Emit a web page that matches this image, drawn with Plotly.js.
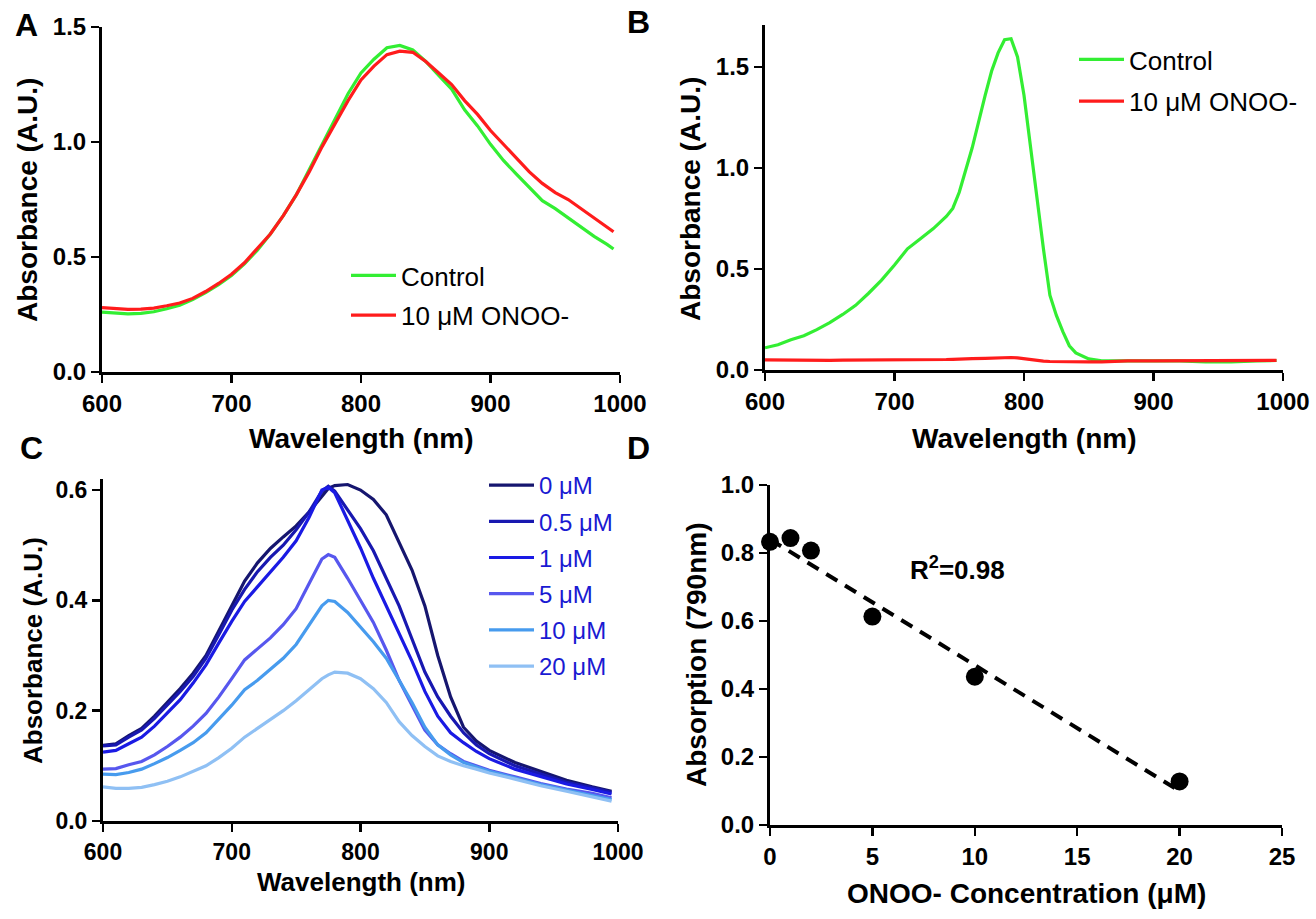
<!DOCTYPE html>
<html>
<head>
<meta charset="utf-8">
<script src="https://cdn.plot.ly/plotly-3.0.1.min.js"></script>
<style>
  html, body { margin: 0; padding: 0; background: #ffffff; }
  #chart { width: 1316px; height: 919px; }
</style>
</head>
<body>
<div id="chart"></div>
<script>
// Panel A: full spectra, control vs ONOO-
const waveA = [600, 610, 620, 630, 640, 650, 660, 670, 680, 690, 700, 710, 720, 730, 740, 750, 760, 770, 780, 790,
  800, 810, 820, 830, 840, 850, 860, 870, 880, 890, 900, 910, 920, 930, 940, 950, 960, 970, 980, 990, 995];
const controlA = [0.26, 0.255, 0.253, 0.255, 0.262, 0.275, 0.29, 0.315, 0.345, 0.38, 0.42, 0.47, 0.53, 0.6, 0.68, 0.77,
  0.88, 0.99, 1.1, 1.21, 1.3, 1.36, 1.41, 1.42, 1.4, 1.35, 1.29, 1.23, 1.14, 1.07, 0.99, 0.92, 0.86, 0.8, 0.745, 0.71,
  0.67, 0.63, 0.59, 0.555, 0.535];
const onooA = [0.28, 0.275, 0.272, 0.273, 0.278, 0.288, 0.3, 0.32, 0.35, 0.385, 0.425, 0.475, 0.535, 0.6, 0.68, 0.77,
  0.87, 0.98, 1.08, 1.18, 1.27, 1.33, 1.38, 1.395, 1.39, 1.35, 1.3, 1.25, 1.18, 1.12, 1.05, 0.99, 0.93, 0.87, 0.82,
  0.78, 0.75, 0.71, 0.67, 0.63, 0.61];

// Panel B
const waveB = [600, 610, 620, 630, 640, 650, 660, 670, 680, 690, 700, 710, 720, 730, 740, 745, 750, 760, 770, 775,
  780, 785, 790, 795, 800, 805, 810, 815, 820, 825, 830, 835, 840, 850, 860, 880, 900, 920, 940, 960, 980, 995];
const controlB = [0.11, 0.125, 0.15, 0.17, 0.2, 0.235, 0.275, 0.32, 0.38, 0.445, 0.52, 0.6, 0.65, 0.7, 0.76, 0.8, 0.88,
  1.1, 1.36, 1.48, 1.57, 1.635, 1.64, 1.55, 1.36, 1.1, 0.84, 0.6, 0.37, 0.27, 0.19, 0.12, 0.085, 0.055, 0.045, 0.045,
  0.045, 0.045, 0.04, 0.04, 0.045, 0.047];
const onooB = [0.05, 0.049, 0.048, 0.048, 0.048, 0.048, 0.049, 0.049, 0.05, 0.05, 0.05, 0.051, 0.051, 0.052, 0.052,
  0.053, 0.053, 0.056, 0.058, 0.06, 0.061, 0.062, 0.062, 0.06, 0.055, 0.05, 0.046, 0.044, 0.042, 0.041, 0.04, 0.04,
  0.04, 0.04, 0.04, 0.045, 0.045, 0.045, 0.045, 0.045, 0.047, 0.048];

// Panel C: titration spectra
const waveC = [600, 610, 620, 630, 640, 650, 660, 670, 680, 690, 700, 710, 720, 730, 740, 750, 760, 770, 775, 780,
  790, 800, 810, 820, 830, 840, 850, 860, 870, 880, 890, 900, 920, 940, 960, 980, 995];
const doseLabels = ["0 μM", "0.5 μM", "1 μM", "5 μM", "10 μM", "20 μM"];
const dose0 = [0.137, 0.14, 0.155, 0.168, 0.19, 0.215, 0.24, 0.268, 0.3, 0.345, 0.39, 0.435, 0.468, 0.494, 0.515, 0.535,
  0.56, 0.59, 0.603, 0.608, 0.61, 0.6, 0.583, 0.555, 0.505, 0.455, 0.39, 0.3, 0.225, 0.17, 0.145, 0.128, 0.106, 0.09,
  0.074, 0.062, 0.054];
const dose05 = [0.136, 0.138, 0.152, 0.165, 0.186, 0.21, 0.235, 0.262, 0.295, 0.338, 0.382, 0.42, 0.452, 0.478, 0.5,
  0.528, 0.56, 0.598, 0.607, 0.598, 0.565, 0.53, 0.49, 0.44, 0.39, 0.33, 0.27, 0.225, 0.19, 0.16, 0.138, 0.122, 0.1,
  0.085, 0.07, 0.06, 0.052];
const dose1 = [0.125, 0.128, 0.14, 0.152, 0.172, 0.195, 0.22, 0.25, 0.283, 0.323, 0.362, 0.398, 0.425, 0.452, 0.478,
  0.508, 0.55, 0.6, 0.605, 0.595, 0.545, 0.495, 0.44, 0.39, 0.34, 0.29, 0.235, 0.19, 0.16, 0.142, 0.126, 0.113, 0.094,
  0.08, 0.067, 0.057, 0.049];
const dose5 = [0.094, 0.095, 0.102, 0.108, 0.12, 0.135, 0.152, 0.172, 0.195, 0.225, 0.258, 0.292, 0.312, 0.332, 0.356,
  0.385, 0.43, 0.475, 0.483, 0.478, 0.44, 0.4, 0.36, 0.31, 0.255, 0.21, 0.165, 0.138, 0.122, 0.108, 0.1, 0.092, 0.08,
  0.068, 0.058, 0.05, 0.042];
const dose10 = [0.085, 0.084, 0.088, 0.094, 0.104, 0.115, 0.128, 0.142, 0.16, 0.185, 0.21, 0.238, 0.255, 0.275, 0.295,
  0.32, 0.355, 0.39, 0.4, 0.398, 0.378, 0.352, 0.325, 0.295, 0.255, 0.215, 0.17, 0.138, 0.12, 0.106, 0.098, 0.09,
  0.078, 0.066, 0.056, 0.047, 0.039];
const dose20 = [0.062, 0.059, 0.059, 0.061, 0.066, 0.072, 0.08, 0.09, 0.1, 0.115, 0.132, 0.152, 0.168, 0.185, 0.2,
  0.218, 0.238, 0.258, 0.265, 0.27, 0.268, 0.258, 0.24, 0.215, 0.18, 0.155, 0.135, 0.118, 0.108, 0.1, 0.094, 0.087,
  0.076, 0.064, 0.054, 0.044, 0.036];
const doseColors = ["#16166f", "#1818b0", "#1a1ae4", "#5757ee", "#479bee", "#8fc0f4"];

// Panel D: absorption at 790 nm vs concentration
const concD = [0, 1, 2, 5, 10, 20];
const absD = [0.833, 0.844, 0.807, 0.613, 0.436, 0.128];
const fitX = [0, 20];
const fitY = [0.84, 0.1];

const FONT = "Liberation Sans, Arial, sans-serif";
const W = 1316;
const H = 919;

// 像素 -> paper 坐标
const px = (x) => x / W;
const py = (y) => 1 - y / H;

function axisStyle(domain, range, tickvals, fmt, size) {
  return {
    domain,
    range,
    tickvals,
    tickformat: fmt,
    showline: true,
    linecolor: "#000",
    linewidth: 3,
    ticks: "outside",
    ticklen: 8,
    tickwidth: 2.5,
    tickcolor: "#000",
    showgrid: false,
    zeroline: false,
    tickfont: { family: FONT, size, color: "#000", weight: "bold" },
  };
}

function label(text, x, y, size, angle) {
  return {
    text,
    xref: "paper",
    yref: "paper",
    x: px(x),
    y: py(y),
    xanchor: "center",
    yanchor: "middle",
    showarrow: false,
    textangle: angle || 0,
    font: { family: FONT, size, color: "#000", weight: "bold" },
  };
}

// 每条曲线单独成组，便于用 tracegroupgap 控制图例行距
const line = (x, y, name, color, legend, xa, ya) => ({
  x, y, name, legend, xaxis: xa, yaxis: ya,
  legendgroup: legend + "-" + name,
  type: "scatter",
  mode: "lines",
  line: { color, width: 3.2 },
});

const data = [
  line(waveA, controlA, "Control", "#33ee33", "legend", "x", "y"),
  line(waveA, onooA, "10 μM ONOO-", "#ff1c1c", "legend", "x", "y"),
  line(waveB, controlB, "Control", "#33ee33", "legend2", "x2", "y2"),
  line(waveB, onooB, "10 μM ONOO-", "#ff1c1c", "legend2", "x2", "y2"),
];
[dose0, dose05, dose1, dose5, dose10, dose20].forEach((ys, i) => {
  data.push(line(waveC, ys, doseLabels[i], doseColors[i], "legend3", "x3", "y3"));
});
data.push({
  x: fitX, y: fitY, xaxis: "x4", yaxis: "y4", type: "scatter", mode: "lines", showlegend: false,
  line: { color: "#000", width: 4, dash: "13px,9px" },
});
data.push({
  x: concD, y: absD, xaxis: "x4", yaxis: "y4", type: "scatter", mode: "markers", showlegend: false,
  marker: { color: "#000", size: 18 },
  cliponaxis: false,
});

const legendStyle = (x, y, size, color, gap) => ({
  x: px(x),
  y: py(y),
  xanchor: "left",
  yanchor: "top",
  bgcolor: "rgba(0,0,0,0)",
  itemwidth: 45,
  tracegroupgap: gap,
  font: { family: FONT, size, color },
});

const layout = {
  width: W,
  height: H,
  margin: { l: 0, r: 0, t: 0, b: 0 },
  paper_bgcolor: "#fff",
  plot_bgcolor: "#fff",
  font: { family: FONT, color: "#000" },
  xaxis: axisStyle([px(102), px(620)], [600, 1000], [600, 700, 800, 900, 1000], "d", 24),
  yaxis: axisStyle([py(372), py(27)], [0, 1.5], [0, 0.5, 1, 1.5], ".1f", 24),
  xaxis2: { ...axisStyle([px(765), px(1283)], [600, 1000], [600, 700, 800, 900, 1000], "d", 24), anchor: "y2" },
  yaxis2: { ...axisStyle([py(370), py(25)], [0, 1.708], [0, 0.5, 1, 1.5], ".1f", 24), anchor: "x2" },
  xaxis3: { ...axisStyle([px(103), px(618)], [600, 1000], [600, 700, 800, 900, 1000], "d", 23), anchor: "y3" },
  yaxis3: { ...axisStyle([py(821), py(479)], [0, 0.62], [0, 0.2, 0.4, 0.6], ".1f", 23), anchor: "x3" },
  xaxis4: { ...axisStyle([px(770), px(1282)], [0, 25], [0, 5, 10, 15, 20, 25], "d", 24), anchor: "y4" },
  yaxis4: { ...axisStyle([py(825), py(485)], [0, 1], [0, 0.2, 0.4, 0.6, 0.8, 1], ".1f", 24), anchor: "x4" },
  legend: legendStyle(346, 252, 26, "#000", 3),
  legend2: legendStyle(1074, 36, 26, "#000", 5),
  legend3: legendStyle(484, 463, 24, "#1a1ad2", 2),
  annotations: [
    label("A", 26, 25, 32),
    label("B", 638, 22, 32),
    label("C", 31, 448, 32),
    label("D", 638, 448, 32),
    label("Wavelength (nm)", 361, 438, 28),
    label("Absorbance (A.U.)", 28, 200, 28, -90),
    label("Wavelength (nm)", 1024, 438, 28),
    label("Absorbance (A.U.)", 690, 199, 28, -90),
    label("Wavelength (nm)", 361, 882, 26),
    label("Absorbance (A.U.)", 33, 651, 26, -90),
    label("ONOO- Concentration (μM)", 1026, 893, 28),
    label("Absorption (790nm)", 696, 655, 28, -90),
    label("R<sup>2</sup>=0.98", 957, 568, 26),
  ],
};

Plotly.newPlot("chart", data, layout, { displayModeBar: false, staticPlot: true });
</script>
</body>
</html>
